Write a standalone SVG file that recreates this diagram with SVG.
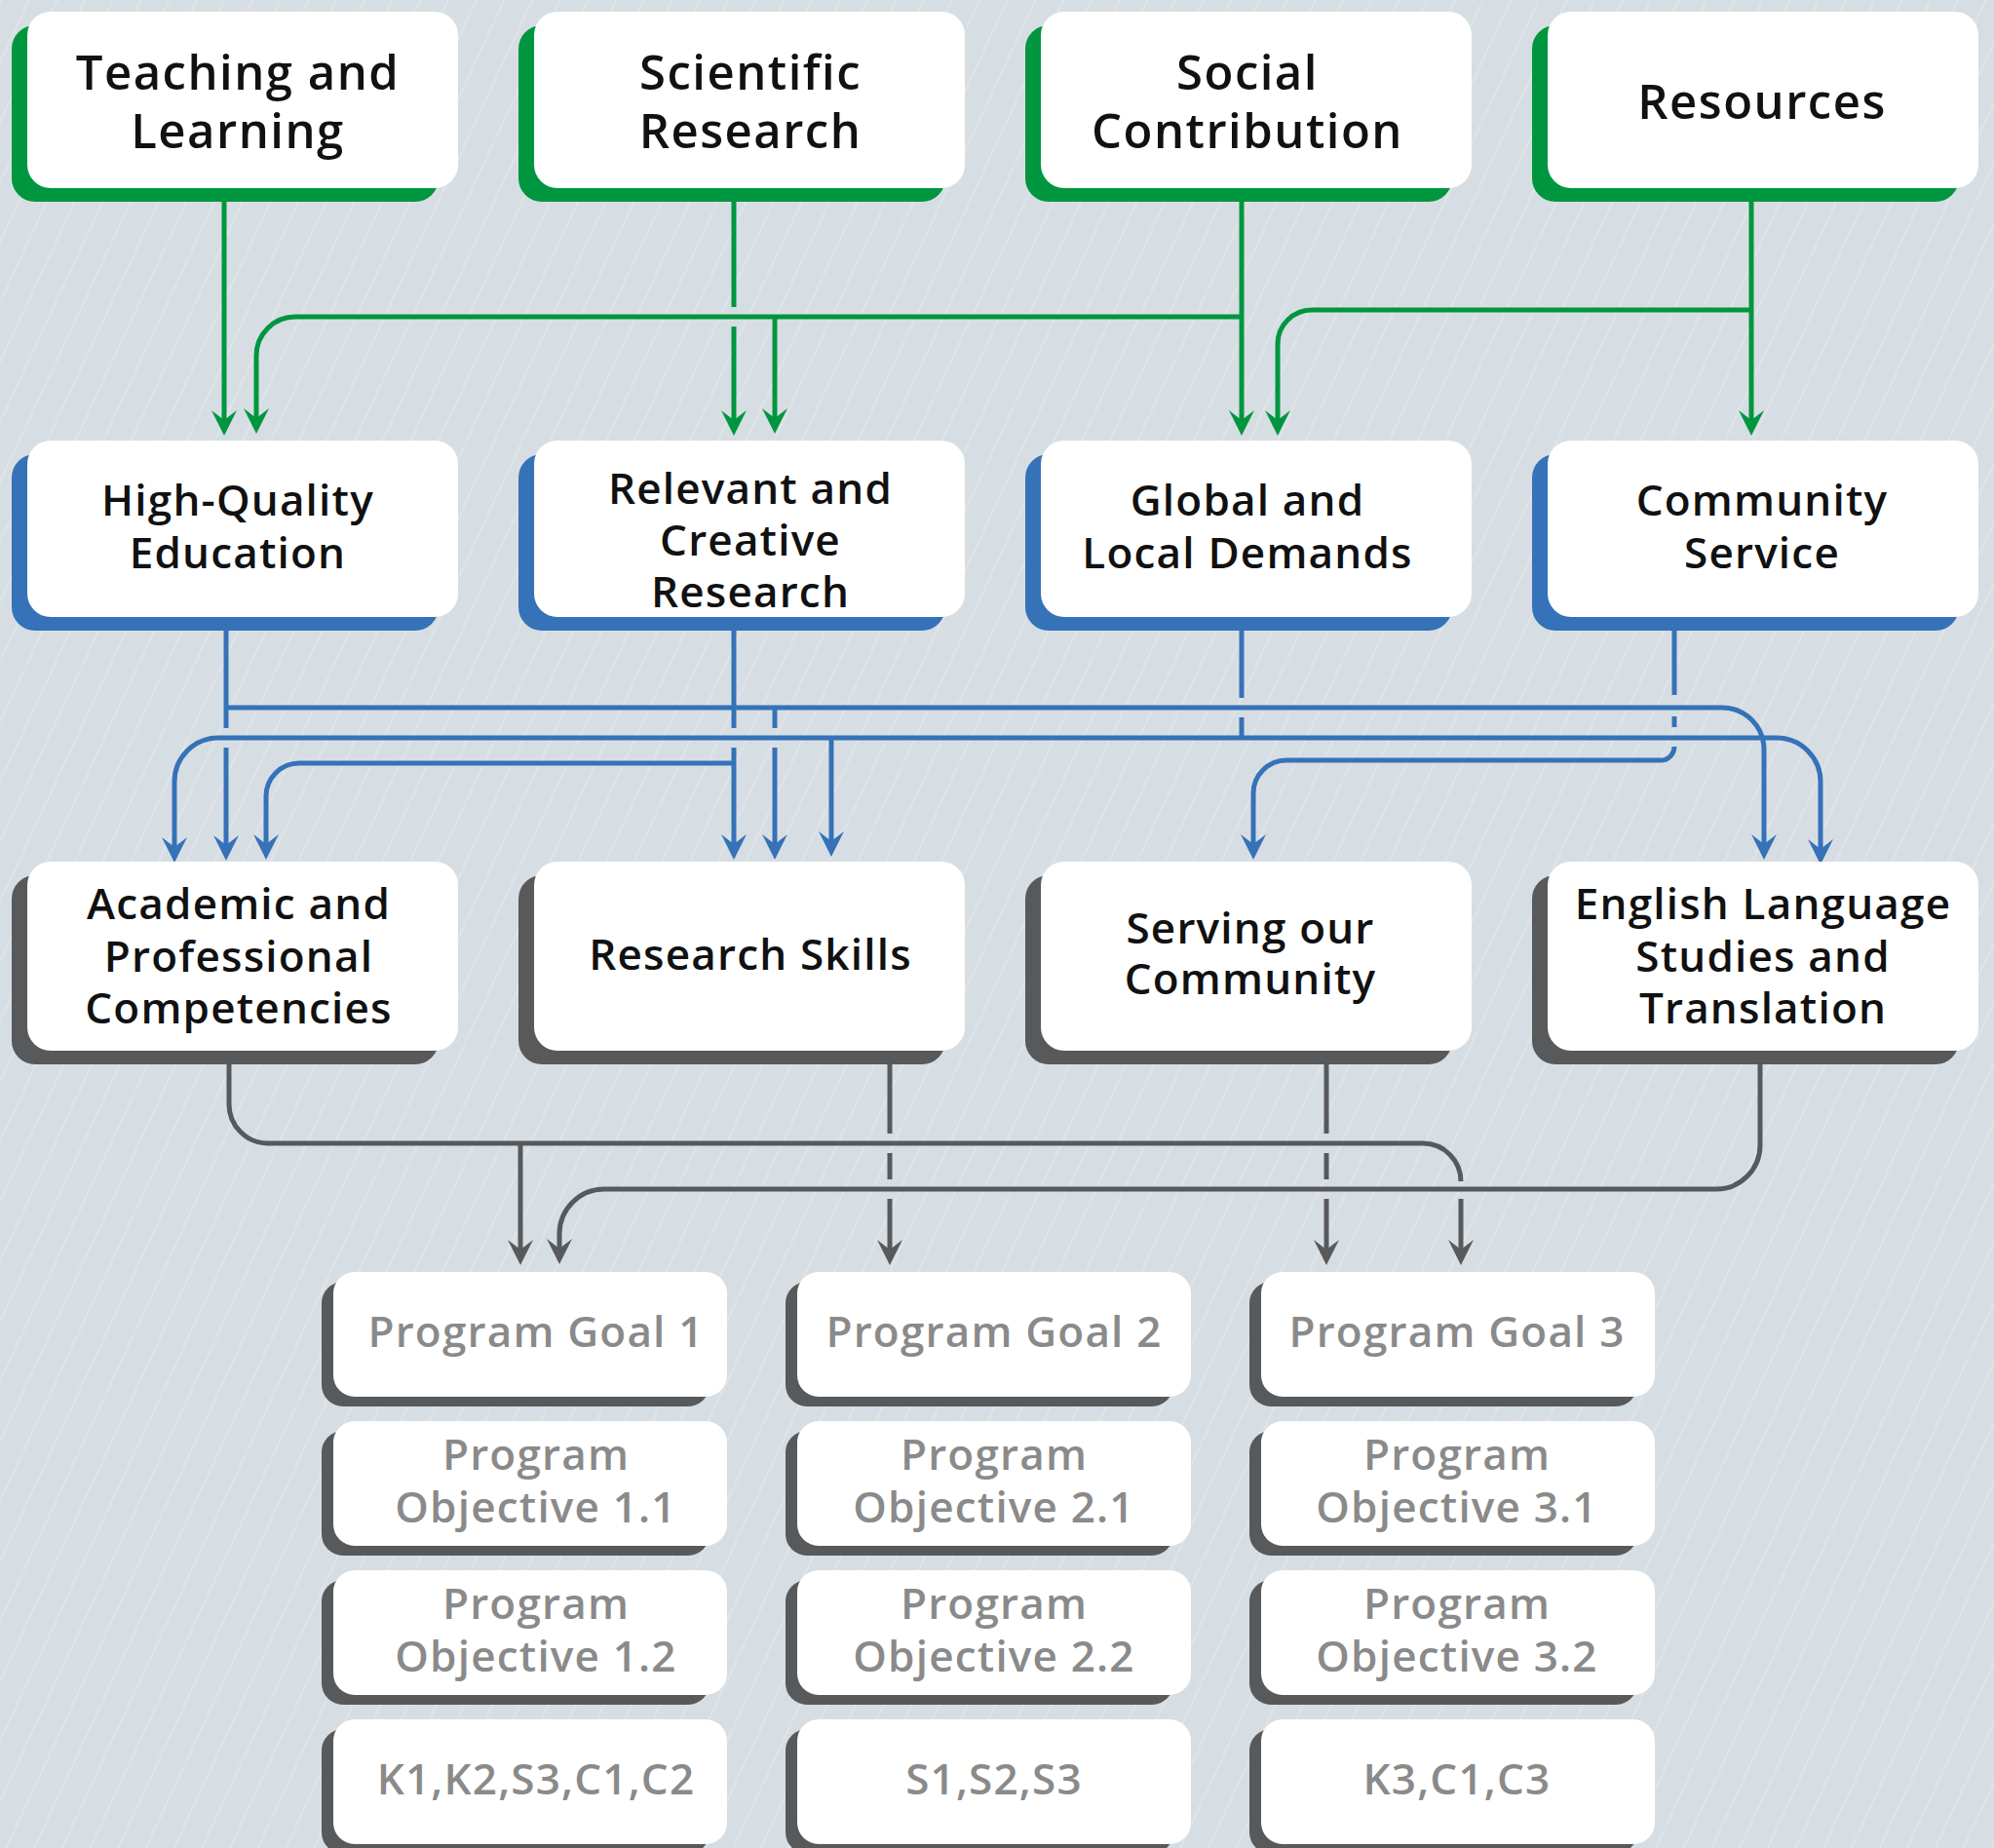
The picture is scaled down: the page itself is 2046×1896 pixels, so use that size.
<svg xmlns="http://www.w3.org/2000/svg" width="2046" height="1896" viewBox="0 0 2046 1896">
<defs>
<pattern id="bgp" width="26" height="26" patternUnits="userSpaceOnUse" patternTransform="rotate(25)">
<rect width="26" height="26" fill="#d7dee3"/>
<rect x="0" y="0" width="2" height="26" fill="#dee4e8"/>
</pattern>
<marker id="ag" markerUnits="userSpaceOnUse" markerWidth="40" markerHeight="40" viewBox="-20 -20 40 40" refX="0" refY="0" orient="auto" overflow="visible"><path d="M8,0 L-18,-13 L-8,0 L-18,13 Z" fill="#00963f"/></marker>
<marker id="ab" markerUnits="userSpaceOnUse" markerWidth="40" markerHeight="40" viewBox="-20 -20 40 40" refX="0" refY="0" orient="auto" overflow="visible"><path d="M8,0 L-18,-13 L-8,0 L-18,13 Z" fill="#3572b8"/></marker>
<marker id="ak" markerUnits="userSpaceOnUse" markerWidth="40" markerHeight="40" viewBox="-20 -20 40 40" refX="0" refY="0" orient="auto" overflow="visible"><path d="M8,0 L-18,-13 L-8,0 L-18,13 Z" fill="#58595b"/></marker>
</defs>
<style>
.card{fill:#ffffff}
.sg{fill:#00963f}
.sb{fill:#3572b8}
.sk{fill:#58595b}
.t1{font-family:"Open Sans","Liberation Sans",sans-serif;font-weight:600;font-size:49px;fill:#111111;text-anchor:middle;letter-spacing:1.5px}
.t2{font-family:"Open Sans","Liberation Sans",sans-serif;font-weight:600;font-size:44px;fill:#111111;text-anchor:middle;letter-spacing:1.2px}
.t3{font-family:"Open Sans","Liberation Sans",sans-serif;font-weight:600;font-size:44px;fill:#8a8a8a;text-anchor:middle;letter-spacing:1.2px}
.cg{fill:none;stroke:#00963f;stroke-width:5}
.cb{fill:none;stroke:#3572b8;stroke-width:5}
.ck{fill:none;stroke:#58595b;stroke-width:5}
</style>
<rect width="2046" height="1896" fill="url(#bgp)"/>

<g id="connectors">
<g id="green">
<path class="cg" d="M230,207 L230,439" marker-end="url(#ag)"/>
<path class="cg" d="M1274,325 L303,325 A40,40 0 0 0 263,365 L263,437" marker-end="url(#ag)"/>
<path class="cg" d="M795,325 L795,437" marker-end="url(#ag)"/>
<path class="cg" d="M753,207 L753,315"/>
<path class="cg" d="M753,335 L753,439" marker-end="url(#ag)"/>
<path class="cg" d="M1274,207 L1274,439" marker-end="url(#ag)"/>
<path class="cg" d="M1797,207 L1797,439" marker-end="url(#ag)"/>
<path class="cg" d="M1797,318 L1346,318 A35,35 0 0 0 1311,353 L1311,439" marker-end="url(#ag)"/>
</g>
<g id="blue">
<path class="cb" d="M232,647 L232,747"/>
<path class="cb" d="M232,767 L232,875" marker-end="url(#ab)"/>
<path class="cb" d="M232,726 L1767,726 A43,43 0 0 1 1810,769 L1810,874" marker-end="url(#ab)"/>
<path class="cb" d="M795,726 L795,747"/>
<path class="cb" d="M795,767 L795,874" marker-end="url(#ab)"/>
<path class="cb" d="M1274,647 L1274,716 M1274,736 L1274,757"/>
<path class="cb" d="M1274,757 L224,757 A45,45 0 0 0 179,802 L179,877" marker-end="url(#ab)"/>
<path class="cb" d="M1274,757 L1823,757 A45,45 0 0 1 1868,802 L1868,879" marker-end="url(#ab)"/>
<path class="cb" d="M853,757 L853,871" marker-end="url(#ab)"/>
<path class="cb" d="M753,647 L753,747"/>
<path class="cb" d="M753,767 L753,874" marker-end="url(#ab)"/>
<path class="cb" d="M753,783 L307,783 A34,34 0 0 0 273,817 L273,874" marker-end="url(#ab)"/>
<path class="cb" d="M1718,647 L1718,713 M1718,735 L1718,746"/>
<path class="cb" d="M1718,766 A14,14 0 0 1 1704,780 L1320,780 A34,34 0 0 0 1286,814 L1286,874" marker-end="url(#ab)"/>
</g>
<g id="gray">
<path class="ck" d="M235,1092 L235,1133 A40,40 0 0 0 275,1173 L1460,1173 A39,39 0 0 1 1499,1212"/>
<path class="ck" d="M1499,1230 L1499,1290" marker-end="url(#ak)"/>
<path class="ck" d="M534,1173 L534,1290" marker-end="url(#ak)"/>
<path class="ck" d="M913,1092 L913,1163 M913,1183 L913,1210"/>
<path class="ck" d="M913,1230 L913,1290" marker-end="url(#ak)"/>
<path class="ck" d="M1361,1092 L1361,1163 M1361,1183 L1361,1210"/>
<path class="ck" d="M1361,1230 L1361,1290" marker-end="url(#ak)"/>
<path class="ck" d="M1806,1092 L1806,1175 A45,45 0 0 1 1761,1220 L620,1220 A46,46 0 0 0 574,1266 L574,1289" marker-end="url(#ak)"/>
</g>
</g>

<g id="n-teaching"><rect class="sg" x="12" y="26" width="438" height="181" rx="24"/><rect class="card" x="28" y="12" width="442" height="181" rx="24"/><text class="t1" x="244" y="92">Teaching and</text><text class="t1" x="244" y="152">Learning</text></g>
<g id="n-scientific"><rect class="sg" x="532" y="26" width="438" height="181" rx="24"/><rect class="card" x="548" y="12" width="442" height="181" rx="24"/><text class="t1" x="770" y="92">Scientific</text><text class="t1" x="770" y="152">Research</text></g>
<g id="n-social"><rect class="sg" x="1052" y="26" width="438" height="181" rx="24"/><rect class="card" x="1068" y="12" width="442" height="181" rx="24"/><text class="t1" x="1280" y="92">Social</text><text class="t1" x="1280" y="152">Contribution</text></g>
<g id="n-resources"><rect class="sg" x="1572" y="26" width="438" height="181" rx="24"/><rect class="card" x="1588" y="12" width="442" height="181" rx="24"/><text class="t1" x="1808" y="122">Resources</text></g>

<g id="n-hq"><rect class="sb" x="12" y="466" width="438" height="181" rx="24"/><rect class="card" x="28" y="452" width="442" height="181" rx="24"/><text class="t2" x="244" y="529">High-Quality</text><text class="t2" x="244" y="583">Education</text></g>
<g id="n-relevant"><rect class="sb" x="532" y="466" width="438" height="181" rx="24"/><rect class="card" x="548" y="452" width="442" height="181" rx="24"/><text class="t2" x="770" y="517">Relevant and</text><text class="t2" x="770" y="570">Creative</text><text class="t2" x="770" y="623">Research</text></g>
<g id="n-global"><rect class="sb" x="1052" y="466" width="438" height="181" rx="24"/><rect class="card" x="1068" y="452" width="442" height="181" rx="24"/><text class="t2" x="1280" y="529">Global and</text><text class="t2" x="1280" y="583">Local Demands</text></g>
<g id="n-community"><rect class="sb" x="1572" y="466" width="438" height="181" rx="24"/><rect class="card" x="1588" y="452" width="442" height="181" rx="24"/><text class="t2" x="1808" y="529">Community</text><text class="t2" x="1808" y="583">Service</text></g>

<g id="n-academic"><rect class="sk" x="12" y="898" width="438" height="194" rx="24"/><rect class="card" x="28" y="884" width="442" height="194" rx="24"/><text class="t2" x="245" y="943">Academic and</text><text class="t2" x="245" y="997">Professional</text><text class="t2" x="245" y="1050">Competencies</text></g>
<g id="n-rskills"><rect class="sk" x="532" y="898" width="438" height="194" rx="24"/><rect class="card" x="548" y="884" width="442" height="194" rx="24"/><text class="t2" x="770" y="995">Research Skills</text></g>
<g id="n-serving"><rect class="sk" x="1052" y="898" width="438" height="194" rx="24"/><rect class="card" x="1068" y="884" width="442" height="194" rx="24"/><text class="t2" x="1283" y="968">Serving our</text><text class="t2" x="1283" y="1020">Community</text></g>
<g id="n-english"><rect class="sk" x="1572" y="898" width="438" height="194" rx="24"/><rect class="card" x="1588" y="884" width="442" height="194" rx="24"/><text class="t2" x="1809" y="943">English Language</text><text class="t2" x="1809" y="997">Studies and</text><text class="t2" x="1809" y="1050">Translation</text></g>

<g id="n-goal1"><rect class="sk" x="330" y="1315" width="398" height="128" rx="22"/><rect class="card" x="342" y="1305" width="404" height="128" rx="22"/><text class="t3" x="550" y="1382">Program Goal 1</text></g>
<g id="n-goal2"><rect class="sk" x="806" y="1315" width="398" height="128" rx="22"/><rect class="card" x="818" y="1305" width="404" height="128" rx="22"/><text class="t3" x="1020" y="1382">Program Goal 2</text></g>
<g id="n-goal3"><rect class="sk" x="1282" y="1315" width="398" height="128" rx="22"/><rect class="card" x="1294" y="1305" width="404" height="128" rx="22"/><text class="t3" x="1495" y="1382">Program Goal 3</text></g>

<g id="n-obj11"><rect class="sk" x="330" y="1468" width="398" height="128" rx="22"/><rect class="card" x="342" y="1458" width="404" height="128" rx="22"/><text class="t3" x="550" y="1508">Program</text><text class="t3" x="550" y="1562">Objective 1.1</text></g>
<g id="n-obj21"><rect class="sk" x="806" y="1468" width="398" height="128" rx="22"/><rect class="card" x="818" y="1458" width="404" height="128" rx="22"/><text class="t3" x="1020" y="1508">Program</text><text class="t3" x="1020" y="1562">Objective 2.1</text></g>
<g id="n-obj31"><rect class="sk" x="1282" y="1468" width="398" height="128" rx="22"/><rect class="card" x="1294" y="1458" width="404" height="128" rx="22"/><text class="t3" x="1495" y="1508">Program</text><text class="t3" x="1495" y="1562">Objective 3.1</text></g>

<g id="n-obj12"><rect class="sk" x="330" y="1621" width="398" height="128" rx="22"/><rect class="card" x="342" y="1611" width="404" height="128" rx="22"/><text class="t3" x="550" y="1661">Program</text><text class="t3" x="550" y="1715">Objective 1.2</text></g>
<g id="n-obj22"><rect class="sk" x="806" y="1621" width="398" height="128" rx="22"/><rect class="card" x="818" y="1611" width="404" height="128" rx="22"/><text class="t3" x="1020" y="1661">Program</text><text class="t3" x="1020" y="1715">Objective 2.2</text></g>
<g id="n-obj32"><rect class="sk" x="1282" y="1621" width="398" height="128" rx="22"/><rect class="card" x="1294" y="1611" width="404" height="128" rx="22"/><text class="t3" x="1495" y="1661">Program</text><text class="t3" x="1495" y="1715">Objective 3.2</text></g>

<g id="n-k1"><rect class="sk" x="330" y="1774" width="398" height="128" rx="22"/><rect class="card" x="342" y="1764" width="404" height="128" rx="22"/><text class="t3" x="550" y="1841">K1,K2,S3,C1,C2</text></g>
<g id="n-k2"><rect class="sk" x="806" y="1774" width="398" height="128" rx="22"/><rect class="card" x="818" y="1764" width="404" height="128" rx="22"/><text class="t3" x="1020" y="1841">S1,S2,S3</text></g>
<g id="n-k3"><rect class="sk" x="1282" y="1774" width="398" height="128" rx="22"/><rect class="card" x="1294" y="1764" width="404" height="128" rx="22"/><text class="t3" x="1495" y="1841">K3,C1,C3</text></g>
</svg>
